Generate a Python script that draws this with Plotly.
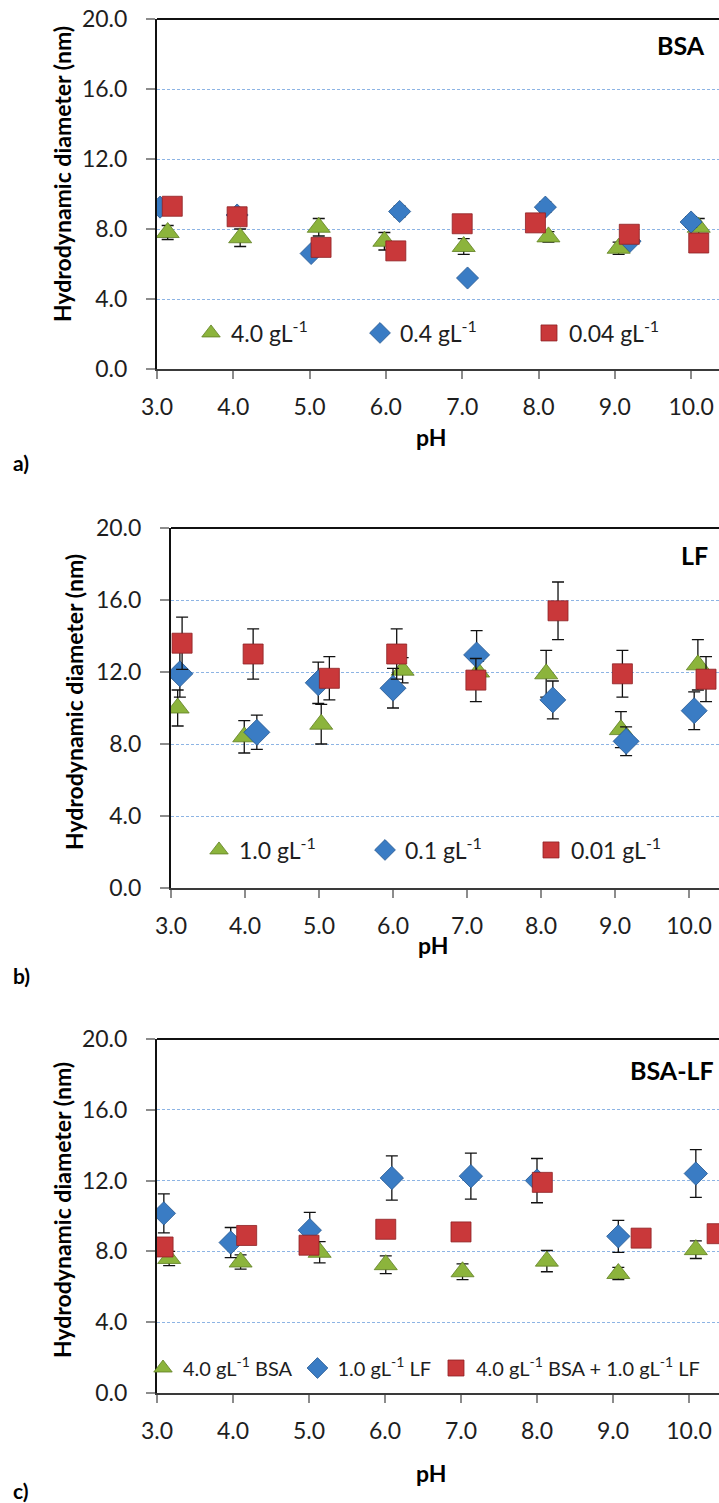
import plotly.graph_objects as go

W, H = 719, 1503
FONT = "Lato"

# ---------------- data ----------------
# Panel a) BSA
a_ph_green = [3.14, 4.09, 5.12, 5.98, 7.02, 8.13, 9.05, 10.10]
a_val_green = [7.8, 7.5, 8.1, 7.3, 7.0, 7.55, 6.9, 8.1]
a_err_green = [0.4, 0.5, 0.5, 0.5, 0.45, 0.3, 0.35, 0.5]
a_ph_blue = [3.04, 4.05, 5.02, 6.18, 7.07, 8.09, 9.20, 10.00]
a_val_blue = [9.25, 8.8, 6.6, 9.0, 5.2, 9.25, 7.3, 8.4]
a_err_blue = [0.3, 0.3, 0.2, 0.3, 0.2, 0.3, 0.2, 0.3]
a_ph_red = [3.20, 4.05, 5.15, 6.13, 7.00, 7.96, 9.19, 10.10]
a_val_red = [9.3, 8.7, 6.95, 6.75, 8.3, 8.35, 7.7, 7.2]
a_err_red = [0.25, 0.3, 0.25, 0.25, 0.25, 0.3, 0.25, 0.25]
a_names = ["4.0 gL<sup>-1</sup>", "0.4 gL<sup>-1</sup>", "0.04 gL<sup>-1</sup>"]

# Panel b) LF
b_ph_green = [3.09, 3.99, 5.03, 6.13, 7.15, 8.07, 9.08, 10.12]
b_val_green = [10.0, 8.4, 9.1, 12.1, 12.0, 11.9, 8.8, 12.4]
b_err_green = [1.0, 0.9, 1.1, 0.7, 0.6, 1.3, 1.0, 1.4]
b_ph_blue = [3.12, 4.16, 4.99, 6.00, 7.13, 8.16, 9.15, 10.07]
b_val_blue = [11.9, 8.65, 11.4, 11.1, 12.95, 10.45, 8.15, 9.85]
b_err_blue = [1.3, 0.95, 1.15, 1.1, 1.35, 1.05, 0.8, 1.05]
b_ph_red = [3.15, 4.11, 5.14, 6.05, 7.12, 8.23, 9.10, 10.23]
b_val_red = [13.6, 13.0, 11.65, 13.0, 11.55, 15.4, 11.9, 11.6]
b_err_red = [1.45, 1.4, 1.2, 1.4, 1.2, 1.6, 1.3, 1.25]
b_names = ["1.0 gL<sup>-1</sup>", "0.1 gL<sup>-1</sup>", "0.01 gL<sup>-1</sup>"]

# Panel c) BSA-LF
c_ph_green = [3.16, 4.10, 5.14, 6.01, 7.02, 8.13, 9.07, 10.09]
c_val_green = [7.6, 7.4, 7.95, 7.25, 6.85, 7.45, 6.75, 8.1]
c_err_green = [0.4, 0.4, 0.6, 0.5, 0.45, 0.6, 0.35, 0.5]
c_ph_blue = [3.09, 3.97, 5.01, 6.09, 7.13, 8.00, 9.07, 10.09]
c_val_blue = [10.15, 8.5, 9.2, 12.15, 12.25, 12.0, 8.85, 12.4]
c_err_blue = [1.1, 0.85, 1.0, 1.25, 1.3, 1.25, 0.9, 1.35]
c_ph_red = [3.08, 4.18, 5.00, 6.01, 7.00, 8.07, 9.37, 10.37]
c_val_red = [8.25, 8.9, 8.35, 9.25, 9.1, 11.9, 8.75, 9.0]
c_err_red = [0.3, 0.3, 0.3, 0.3, 0.3, 0.3, 0.3, 0.3]
c_names = ["4.0 gL<sup>-1</sup> BSA", "1.0 gL<sup>-1</sup> LF",
           "4.0 gL<sup>-1</sup> BSA + 1.0 gL<sup>-1</sup> LF"]

x_ticks = [3, 4, 5, 6, 7, 8, 9, 10]
y_ticks = [0, 4, 8, 12, 16, 20]
panel_titles = ["BSA", "LF", "BSA-LF"]
panel_labels = ["a)", "b)", "c)"]

GREEN, BLUE, RED = "#8cb43c", "#3a7cc4", "#c9383a"

# ---------------- layout geometry (pixels) ----------------
panels = [
    dict(left=157, top=19, bottom=369, ppu=76.3,
         ytitle=(62, 174), xtitle=(431, 437), lab=(21, 463), tag=(681, 45),
         leg=(191, 333), entw=124, lfs=23, dsz=17, ssz=20, tsz=20),
    dict(left=171, top=528, bottom=888, ppu=74.0,
         ytitle=(74, 702), xtitle=(433, 945), lab=(21, 975), tag=(694, 555),
         leg=(199, 850), entw=121, lfs=23, dsz=20, ssz=20, tsz=20),
    dict(left=157, top=1039, bottom=1393, ppu=76.0,
         ytitle=(62, 1210), xtitle=(431, 1473), lab=(21, 1490), tag=(672, 1070),
         leg=(143, 1368), entw=None, lfs=20, dsz=18, ssz=20, tsz=20),
]

data = [
    [(a_ph_green, a_val_green, a_err_green), (a_ph_blue, a_val_blue, a_err_blue),
     (a_ph_red, a_val_red, a_err_red), a_names],
    [(b_ph_green, b_val_green, b_err_green), (b_ph_blue, b_val_blue, b_err_blue),
     (b_ph_red, b_val_red, b_err_red), b_names],
    [(c_ph_green, c_val_green, c_err_green), (c_ph_blue, c_val_blue, c_err_blue),
     (c_ph_red, c_val_red, c_err_red), c_names],
]

fig = go.Figure()
shapes, annotations = [], []
layout = {}

for i, (p, d) in enumerate(zip(panels, data)):
    n = "" if i == 0 else str(i + 1)
    xa, ya = "x" + n, "y" + n
    leg = "legend" + n
    styles = [("triangle-up", GREEN, "#5f7f22", p["tsz"]),
              ("diamond", BLUE, "#24578f", p["dsz"]),
              ("square", RED, "#8e2224", p["ssz"])]
    for (ph, val, err), (sym, col, edge, sz), name in zip(d[:3], styles, d[3]):
        fig.add_trace(go.Scatter(
            x=ph, y=val, mode="markers", name=name, xaxis=xa, yaxis=ya,
            legend=leg,
            marker=dict(symbol=sym, color=col, size=sz,
                        line=dict(color=edge, width=0.8)),
            error_y=dict(type="data", array=err, visible=True, color="#111111",
                         thickness=1.3, width=6),
        ))
    xmax = 3 + (W - p["left"]) / p["ppu"]
    layout["xaxis" + n] = dict(
        domain=[p["left"] / W, 1], range=[3, xmax], anchor=ya,
        tickvals=x_ticks, tickformat=".1f", ticks="outside", ticklen=8,
        tickcolor="#8c8c8c", tickwidth=1.5, showline=True, linecolor="#3a3a3a",
        linewidth=2, showgrid=False, zeroline=False, ticklabelstandoff=8,
        automargin=False,
        tickfont=dict(family=FONT, size=23, color="#1e1e1e"))
    layout["yaxis" + n] = dict(
        domain=[1 - p["bottom"] / H, 1 - p["top"] / H], range=[0, 20],
        anchor=xa, tickvals=y_ticks, tickformat=".1f", ticks="outside",
        ticklen=9, tickcolor="#8c8c8c", tickwidth=1.5, showline=True,
        linecolor="#111111", linewidth=2, showgrid=True, gridcolor="#8db4e4",
        griddash="3px,2px", gridwidth=1, zeroline=False, ticklabelstandoff=14,
        automargin=False,
        tickfont=dict(family=FONT, size=23, color="#1e1e1e"))
    layout[leg] = dict(
        orientation="h", x=p["leg"][0] / W, y=1 - p["leg"][1] / H,
        xanchor="left", yanchor="middle", bgcolor="rgba(0,0,0,0)",
        font=dict(family=FONT, size=p["lfs"], color="#1e1e1e"),
        itemwidth=30, traceorder="normal",
        **({"entrywidth": p["entw"]} if p["entw"] else {}))
    shapes.append(dict(type="line", xref="paper", yref="paper",
                       x0=p["left"] / W, x1=1, y0=1 - p["top"] / H,
                       y1=1 - p["top"] / H, line=dict(color="#111111", width=2)))
    annotations += [
        dict(text="<b>Hydrodynamic diameter (nm)</b>", textangle=-90,
             x=p["ytitle"][0] / W, y=1 - p["ytitle"][1] / H, xref="paper",
             yref="paper", showarrow=False, xanchor="center", yanchor="middle",
             font=dict(family=FONT, size=23, color="#000000")),
        dict(text="<b>pH</b>", x=p["xtitle"][0] / W, y=1 - p["xtitle"][1] / H,
             xref="paper", yref="paper", showarrow=False, xanchor="center",
             yanchor="middle", font=dict(family=FONT, size=23, color="#000000")),
        dict(text="<b>" + panel_labels[i] + "</b>", x=p["lab"][0] / W,
             y=1 - p["lab"][1] / H, xref="paper", yref="paper", showarrow=False,
             xanchor="center", yanchor="middle",
             font=dict(family=FONT, size=21, color="#000000")),
        dict(text="<b>" + panel_titles[i] + "</b>", x=p["tag"][0] / W,
             y=1 - p["tag"][1] / H, xref="paper", yref="paper", showarrow=False,
             xanchor="center", yanchor="middle",
             font=dict(family=FONT, size=25, color="#000000")),
    ]

fig.update_layout(
    width=W, height=H, autosize=False,
    margin=dict(l=0, r=0, t=0, b=0, pad=0, autoexpand=False),
    paper_bgcolor="white", plot_bgcolor="white",
    shapes=shapes, annotations=annotations, showlegend=True,
    **layout,
)

fig.write_html("out.html")
